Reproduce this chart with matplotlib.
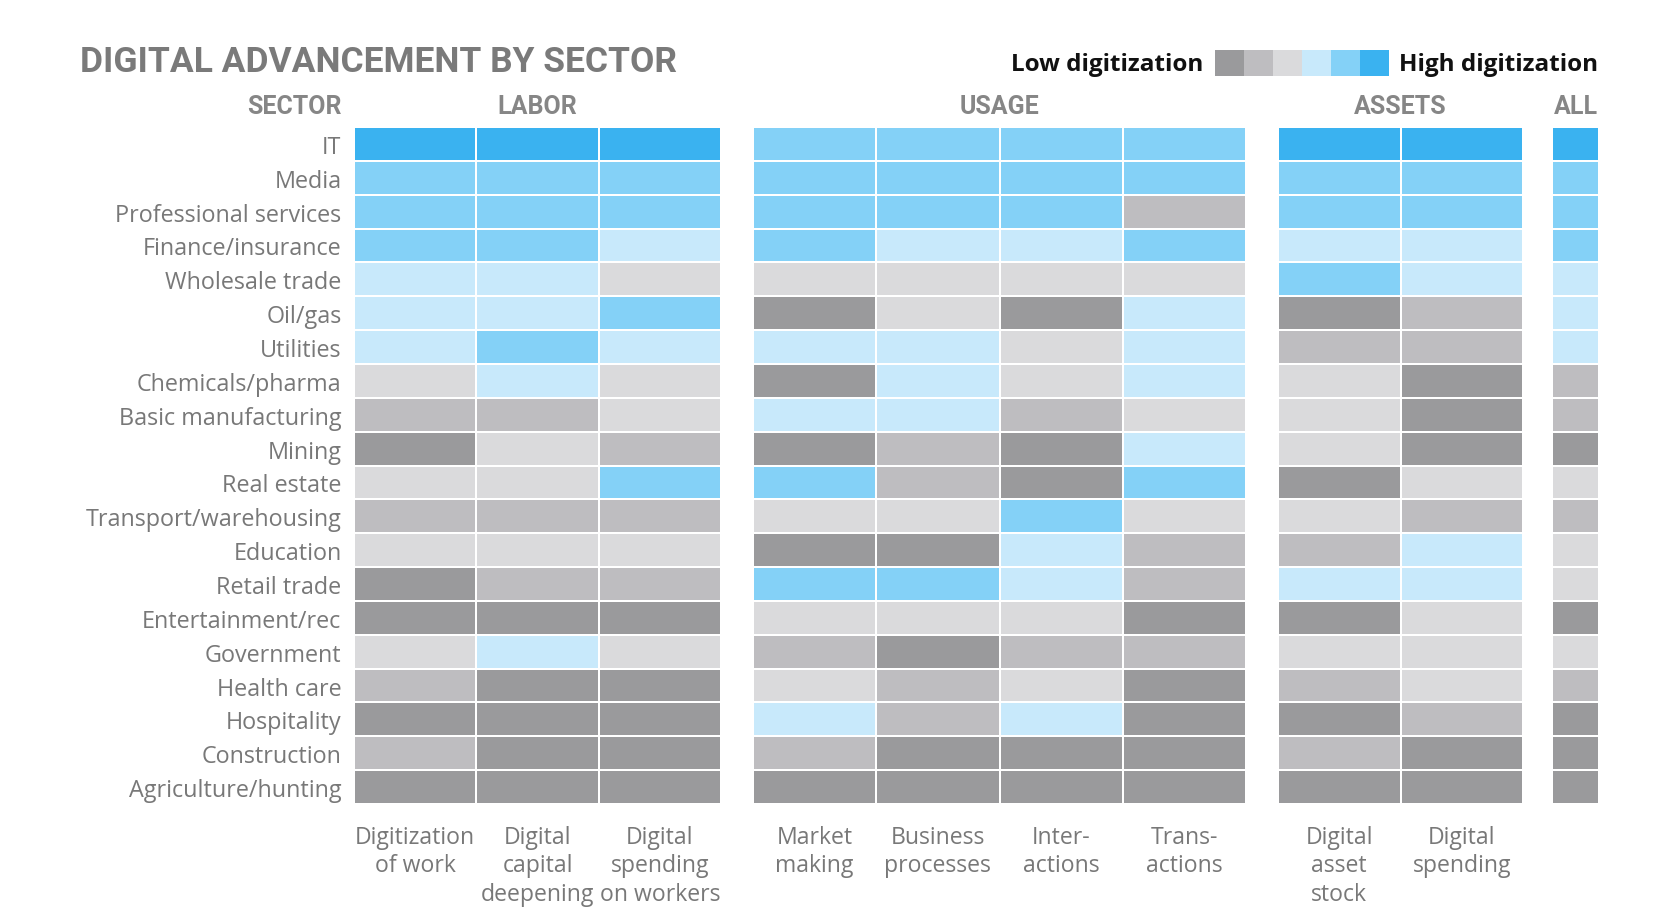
import numpy as np
import matplotlib
matplotlib.use('Agg')
import matplotlib.pyplot as plt
from matplotlib.colors import ListedColormap, BoundaryNorm

# digitization level per cell: 0 = lowest (dark gray) ... 5 = highest (bright blue)
sectors = ['IT', 'Media', 'Professional services', 'Finance/insurance', 'Wholesale trade',
           'Oil/gas', 'Utilities', 'Chemicals/pharma', 'Basic manufacturing', 'Mining',
           'Real estate', 'Transport/warehousing', 'Education', 'Retail trade',
           'Entertainment/rec', 'Government', 'Health care', 'Hospitality',
           'Construction', 'Agriculture/hunting']

labor_cols = ['Digitization\nof work', 'Digital\ncapital\ndeepening', 'Digital\nspending\non workers']
usage_cols = ['Market\nmaking', 'Business\nprocesses', 'Inter-\nactions', 'Trans-\nactions']
assets_cols = ['Digital\nasset\nstock', 'Digital\nspending']

labor = [[5, 5, 5], [4, 4, 4], [4, 4, 4], [4, 4, 3], [3, 3, 2],
         [3, 3, 4], [3, 4, 3], [2, 3, 2], [1, 1, 2], [0, 2, 1],
         [2, 2, 4], [1, 1, 1], [2, 2, 2], [0, 1, 1], [0, 0, 0],
         [2, 3, 2], [1, 0, 0], [0, 0, 0], [1, 0, 0], [0, 0, 0]]
usage = [[4, 4, 4, 4], [4, 4, 4, 4], [4, 4, 4, 1], [4, 3, 3, 4], [2, 2, 2, 2],
         [0, 2, 0, 3], [3, 3, 2, 3], [0, 3, 2, 3], [3, 3, 1, 2], [0, 1, 0, 3],
         [4, 1, 0, 4], [2, 2, 4, 2], [0, 0, 3, 1], [4, 4, 3, 1], [2, 2, 2, 0],
         [1, 0, 1, 1], [2, 1, 2, 0], [3, 1, 3, 0], [1, 0, 0, 0], [0, 0, 0, 0]]
assets = [[5, 5], [4, 4], [4, 4], [3, 3], [4, 3],
          [0, 1], [1, 1], [2, 0], [2, 0], [2, 0],
          [0, 2], [2, 1], [1, 3], [3, 3], [0, 2],
          [2, 2], [1, 2], [0, 1], [1, 0], [0, 0]]
overall = [5, 4, 4, 4, 3, 3, 3, 1, 1, 0, 2, 1, 2, 2, 0, 2, 1, 0, 0, 0]

level_colors = ['#9a9a9c', '#bebdc0', '#dadadc', '#c8e9fb', '#84d1f7', '#3ab2f0']
cmap = ListedColormap(level_colors)
norm = BoundaryNorm(np.arange(-0.5, 6), cmap.N)

W, H = 1680, 912
fig = plt.figure(figsize=(W/100, H/100), dpi=100)
fig.patch.set_facecolor('white')

label_font = 'Open Sans'
head_font = 'Roboto'
gray_txt = '#787878'

def px(x0, x1, y0=128, y1=805):
    return [x0/W, 1 - y1/H, (x1 - x0)/W, (y1 - y0)/H]

blocks = [
    ('LABOR', labor, labor_cols, px(354, 721)),
    ('USAGE', usage, usage_cols, px(753, 1246)),
    ('ASSETS', assets, assets_cols, px(1278, 1523)),
    ('ALL', [[v] for v in overall], [''], px(1552, 1599)),
]

head_dy = 1.0 + 21/677
for i, (name, vals, cols, rect) in enumerate(blocks):
    ax = fig.add_axes(rect)
    arr = np.array(vals)
    ax.pcolormesh(arr, cmap=cmap, norm=norm, edgecolors='white', linewidth=1.1)
    ax.set_xlim(0, arr.shape[1])
    ax.set_ylim(arr.shape[0], 0)
    for s in ax.spines.values():
        s.set_visible(False)
    ax.set_xticks(np.arange(arr.shape[1]) + 0.5)
    ax.set_xticklabels(cols, fontsize=16.6, color=gray_txt, family=label_font,
                       va='top', linespacing=1.25)
    ax.tick_params(axis='x', length=0, pad=15)
    if i == 0:
        ax.set_yticks(np.arange(len(sectors)) + 0.5)
        ax.set_yticklabels(sectors, fontsize=16.8, color=gray_txt, family=label_font)
        ax.tick_params(axis='y', length=0, pad=9)
        ax.text(-12/367, head_dy, 'SECTOR', transform=ax.transAxes, ha='right', va='center',
                fontsize=18, fontweight='bold', color='#868686', family=head_font)
    else:
        ax.set_yticks([])
    ax.text(0.5, head_dy, name, transform=ax.transAxes, ha='center', va='center',
            fontsize=18, fontweight='bold', color='#868686', family=head_font)

# title
fig.text(80/W, 1 - 63/H, 'DIGITAL ADVANCEMENT BY SECTOR', ha='left', va='center',
         fontsize=25.5, fontweight='bold', color='#7a7a7a', family=head_font)

# legend swatches
lax = fig.add_axes(px(1215, 1389, 51, 77))
lax.pcolormesh(np.arange(6).reshape(1, -1), cmap=cmap, norm=norm)
lax.set_axis_off()
fig.text(1203/W, 1 - 65/H, 'Low digitization', ha='right', va='center',
         fontsize=17.5, fontweight='bold', color='#111111', family=label_font)
fig.text(1399/W, 1 - 65/H, 'High digitization', ha='left', va='center',
         fontsize=17.5, fontweight='bold', color='#111111', family=label_font)

fig.savefig('out.png', dpi=100, facecolor='white')
